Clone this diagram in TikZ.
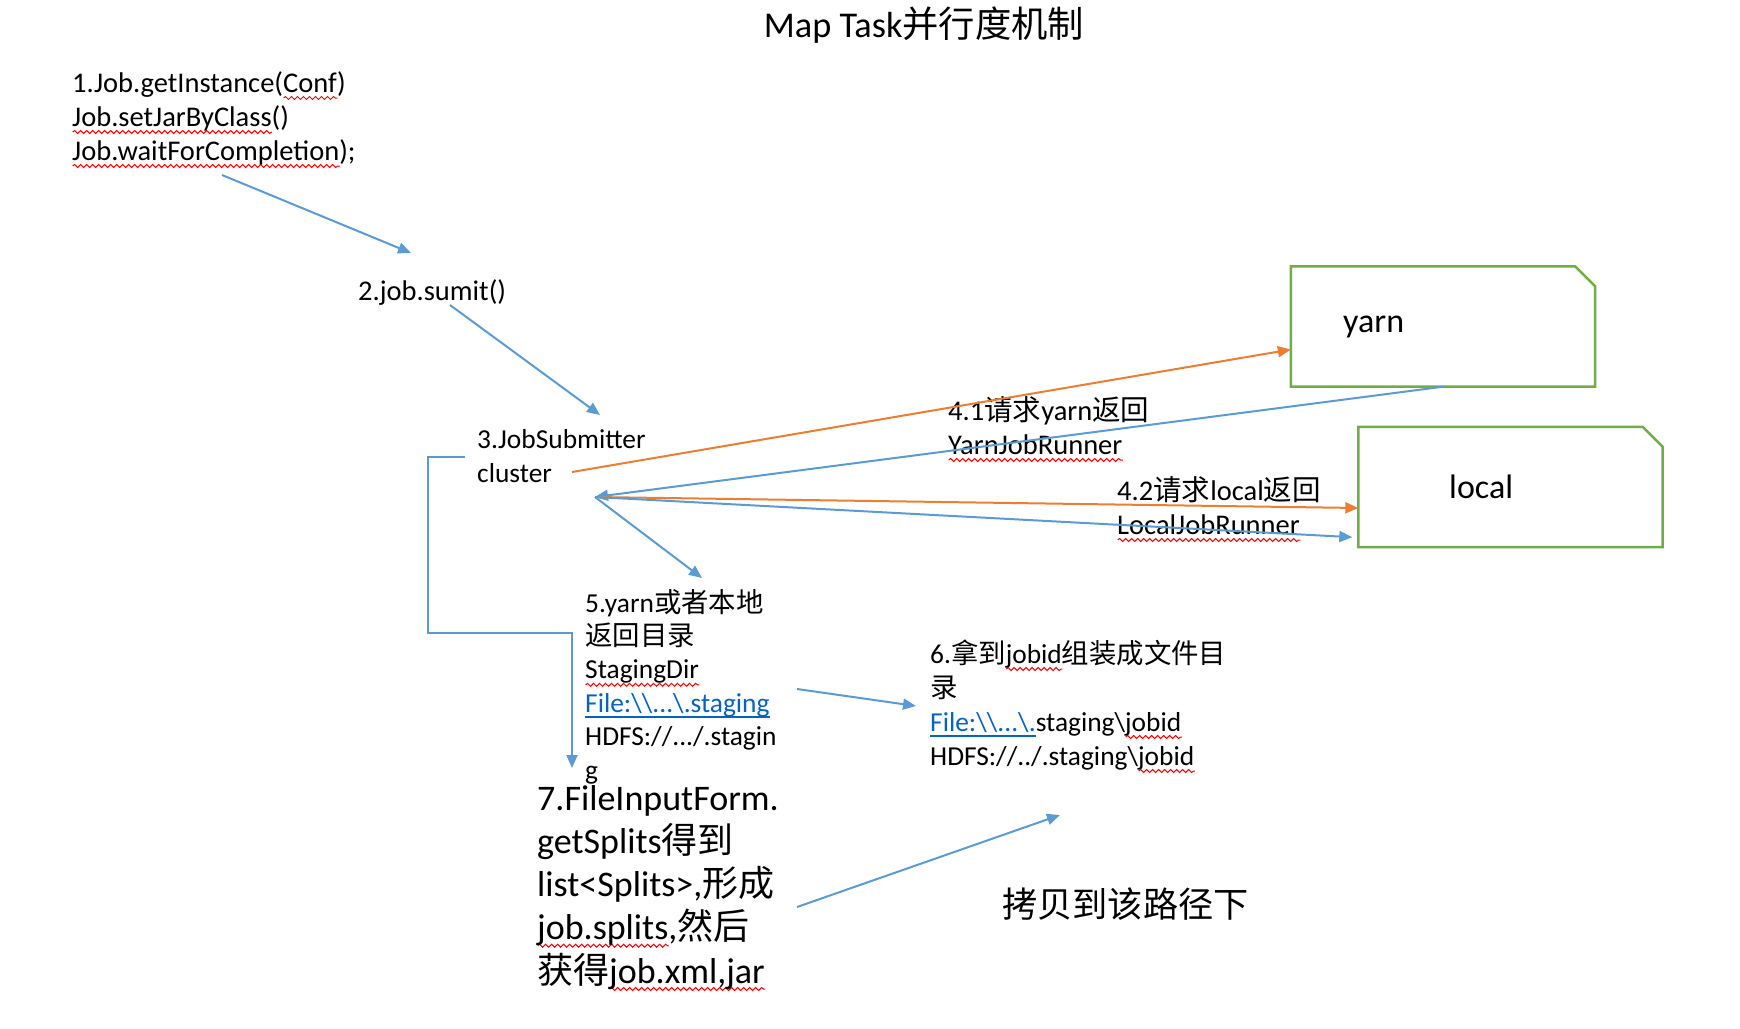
\documentclass[tikz,border=0pt]{standalone}
\usepackage{fontspec}
\setmainfont{Carlito}
\newfontfamily\cjk{Noto Sans CJK SC}
\usetikzlibrary{arrows.meta, calc, decorations.pathmorphing}

\definecolor{ablue}{RGB}{91,155,213}
\definecolor{aorange}{RGB}{237,125,49}
\definecolor{agreen}{RGB}{112,173,71}
\definecolor{alink}{RGB}{5,99,193}

\newlength\sqlen
\newcommand\zh[1]{{\cjk #1}}
\newcommand\bs{\textbackslash}
\newcommand\sq[1]{\settowidth\sqlen{#1}\rlap{\raisebox{-8pt}{\tikz[x=1pt,y=1pt]\draw[red, line width=1pt, decorate, decoration={snake, amplitude=1.5pt, segment length=6pt}] (0,0) -- (\sqlen,0);}}#1}
\newcommand\lnk[1]{{\color{alink}\settowidth\sqlen{#1}\rlap{\raisebox{-5.5pt}{\rule{\sqlen}{1.6pt}}}#1}}

% node base anchor = baseline of the last line
\tikzset{
  txt/.style={font=\fontsize{27.4}{34}\selectfont, align=left, anchor=base west, inner sep=0pt},
  wtxt/.style={txt, font=\fontsize{28.5}{34}\selectfont},
  bigtxt/.style={txt, font=\fontsize{36}{43.25}\selectfont},
  arr/.style={-{Triangle[length=13pt,width=11pt]}, line width=2pt, ablue},
  oarr/.style={arr, aorange},
  mode/.style={minimum width=304pt, minimum height=120pt, inner sep=0pt},
  modeline/.style={draw=agreen, line width=2.5pt}
}

\begin{document}
\begin{tikzpicture}[x=1pt, y=-1pt]
        \useasboundingbox (0,0) rectangle (1740,1028);

        \node[txt, anchor=base, font=\fontsize{36.3}{40}\selectfont] (title) at (924,37) {Map Task\zh{并行度机制}};

        \node[wtxt] (job) at (72,160) {1.Job.getInstance(\sq{Conf})\\\sq{Job.setJarByClass}()\\\sq{Job.waitForCompletion});};
        \node[wtxt] (submit) at (358,300) {2.job.sumit()};
        \node[txt] (jsub) at (477,482) {3.JobSubmitter\\cluster};

        \node[mode] (yarn) at (1443,326.5) {};
        \draw[modeline] (yarn.south west) -- (yarn.north west) -- ($(yarn.north east)+(-20,0)$)
            -- ($(yarn.north east)+(0,20)$) -- (yarn.south east) -- cycle;
        \node[txt, font=\fontsize{34}{40}\selectfont] (yarnlbl) at (1343,332) {yarn};
        \node[mode] (local) at (1510.5,487) {};
        \draw[modeline] (local.south west) -- (local.north west) -- ($(local.north east)+(-20,0)$)
            -- ($(local.north east)+(0,20)$) -- (local.south east) -- cycle;
        \node[txt, font=\fontsize{34}{40}\selectfont] (locallbl) at (1449,498) {local};

        \node[wtxt] (req1) at (948,454) {4.1\zh{请求}yarn\zh{返回}\\\sq{YarnJobRunner}};
        \node[wtxt] (req2) at (1117,534) {4.2\zh{请求}local\zh{返回}\\\sq{LocalJobRunner}};

        \node[txt, font=\fontsize{27.4}{33.4}\selectfont] (stage) at (585,779) {5.yarn\zh{或者本地}\\\zh{返回目录}\\\sq{StagingDir}\\\lnk{File:\bs\bs...\bs.staging}\\HDFS://.../.stagin\\g};
        \node[txt] (jobid) at (930,765) {6.\zh{拿到}\sq{jobid}\zh{组装成文件目}\\\zh{录}\\\lnk{File:\bs\bs...\bs.}staging\bs\sq{jobid}\\HDFS://../.staging\bs\sq{jobid}};
        \node[bigtxt] (split) at (537,983) {7.FileInputForm.\\getSplits\zh{得到}\\list<Splits>,\zh{形成}\\\sq{job.splits},\zh{然后}\\\zh{获得}\sq{job.xml,jar}};
        \node[txt, font=\fontsize{35.2}{42}\selectfont] (copy) at (1002,917) {\zh{拷贝到该路径下}};

        \coordinate (a1) at (222,175);
        \coordinate (a2) at (411,253);
        \coordinate (b1) at (450,305);
        \coordinate (b2) at (600,415);
        \coordinate (c) at (572,472);
        \coordinate (hub) at (595,497);
        \coordinate (d) at (702,578);
        \coordinate (e) at (465,457);
        \coordinate (f) at (572,768);
        \coordinate (g1) at (797,689);
        \coordinate (g2) at (916,706);
        \coordinate (h1) at (797,907);
        \coordinate (h2) at (1060,815);

        \draw[arr] (a1) -- (a2);
        \draw[arr] (b1) -- (b2);
        \draw[oarr] (c) -- ($(yarn.west)+(0,23)$);
        \draw[arr] (yarn.south) -- (hub);
        \draw[oarr] (hub) -- ($(local.west)+(0,21)$);
        \draw[arr] (hub) -- ($(local.south west)+(-6,-10)$);
        \draw[arr] (hub) -- (d);
        \draw[arr] (e) -- ++(-37,0) |- (572,633) -- (f);
        \draw[arr] (g1) -- (g2);
        \draw[arr] (h1) -- (h2);

    \end{tikzpicture}
\end{document}
